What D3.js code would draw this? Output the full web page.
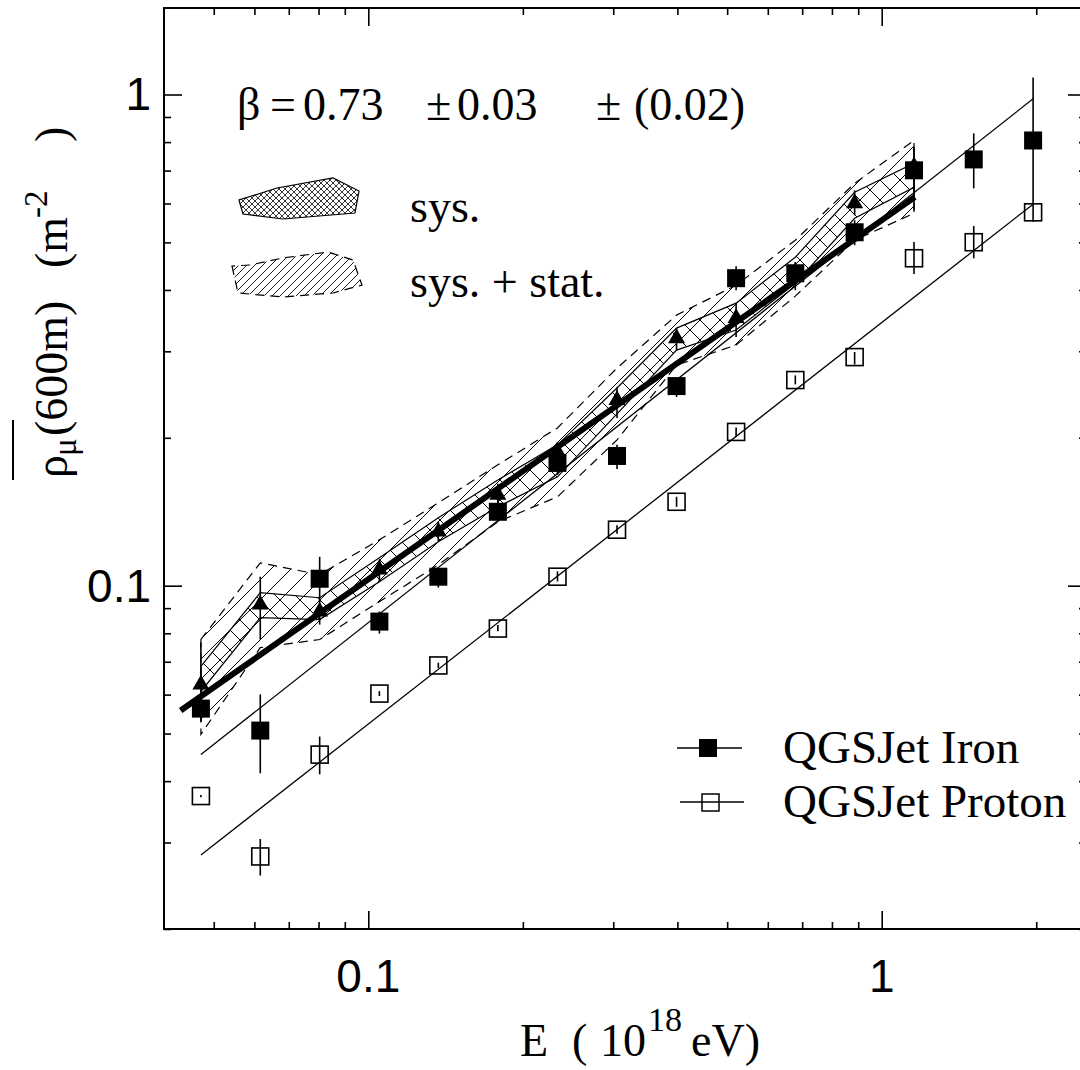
<!DOCTYPE html>
<html>
<head>
<meta charset="utf-8">
<title>Muon density at 600 m vs energy</title>
<script src="https://cdnjs.cloudflare.com/ajax/libs/d3/7.8.5/d3.min.js"></script>
<style>
  body { margin: 0; background: #fff; }
  svg { display: block; }
</style>
</head>
<body>
<svg id="chart" width="1080" height="1070"></svg>
<script>
// energies (10^18 eV) of the bins
var energy = [0.0472, 0.0616, 0.0804, 0.1051, 0.1369, 0.1788, 0.2336, 0.3051,
              0.3985, 0.5205, 0.6788, 0.8857, 1.156, 1.511, 1.972];

// QGSJet iron
var ironRho = [0.0562, 0.0507, 0.1033, 0.0845, 0.1043, 0.1414, 0.1778, 0.1837,
               0.2549, 0.4227, 0.4326, 0.5242, 0.7009, 0.7376, 0.8061];
var ironHi  = [0.0587, 0.0601, 0.1145, 0.0886, 0.1088, 0.1517, 0.1872, 0.1935,
               0.2648, 0.4471, 0.4556, 0.5546, 0.7805, 0.8332, 1.083];
var ironLo  = [0.0529, 0.0415, 0.0928, 0.0799, 0.0991, 0.1349, 0.1681, 0.1729,
               0.2422, 0.3996, 0.3996, 0.4933, 0.6233, 0.6441, 0.6090];

// QGSJet proton
var protonRho = [0.0373, 0.0281, 0.0453, 0.0603, 0.0688, 0.0818, 0.1043, 0.1300,
                 0.1482, 0.2056, 0.2622, 0.2920, 0.4641, 0.5003, 0.5756];
var protonHi  = [0.0375, 0.0305, 0.0493, 0.0610, 0.0697, 0.0832, 0.1070, 0.1328,
                 0.1517, 0.2100, 0.2680, 0.2990, 0.5010, 0.5400, 0.6100];
var protonLo  = [0.0371, 0.0257, 0.0413, 0.0596, 0.0680, 0.0808, 0.1020, 0.1275,
                 0.1447, 0.2010, 0.2570, 0.2820, 0.4310, 0.4640, 0.5510];

// measured data (triangles), first 13 bins
var dataRho = [0.0629, 0.0915, 0.0886, 0.1078, 0.1288, 0.1531, 0.1872, 0.2388,
               0.3190, 0.3506, 0.4326, 0.6004, 0.7140];
var dataHi  = [0.0766, 0.1043, 0.0937, 0.1129, 0.1349, 0.1612, 0.1962, 0.2538,
               0.3345, 0.3760, 0.4556, 0.6379, 0.7805];
var dataLo  = [0.0529, 0.0777, 0.0833, 0.1019, 0.1229, 0.1454, 0.1786, 0.2195,
               0.3017, 0.3207, 0.4090, 0.5677, 0.5811];

// systematic band and sys+stat band
var sysHi = [0.0685, 0.0968, 0.0945, 0.1140, 0.1375, 0.1642, 0.1935, 0.2526,
             0.3345, 0.3760, 0.4663, 0.6322, 0.7242];
var sysLo = [0.0609, 0.0861, 0.0853, 0.1019, 0.1229, 0.1447, 0.1666, 0.2237,
             0.3017, 0.3314, 0.4128, 0.5598, 0.6471];
var totHi = [0.0777, 0.1113, 0.1053, 0.1240, 0.1475, 0.1762, 0.2095, 0.2773,
             0.3555, 0.4090, 0.5050, 0.6594, 0.8062];
var totLo = [0.0498, 0.0748, 0.0777, 0.0928, 0.1103, 0.1349, 0.1517, 0.1980,
             0.2813, 0.3090, 0.3886, 0.5050, 0.5731];

// fitted lines (end points)
var fitDataE = [0.0431, 1.16],  fitDataRho = [0.0557, 0.618];
var fitIronE = [0.0472, 1.972], fitIronRho = [0.0453, 0.980];
var fitProtE = [0.0472, 1.972], fitProtRho = [0.0283, 0.598];

// ticks
var xMajor = [0.1, 1], xMajorLabels = ["0.1", "1"];
var xMinor = [0.05, 0.06, 0.07, 0.08, 0.09, 0.2, 0.3, 0.4, 0.5, 0.6, 0.7, 0.8, 0.9, 2];
var yMajor = [0.1, 1], yMajorLabels = ["0.1", "1"];
var yMinor = [0.02, 0.03, 0.04, 0.05, 0.06, 0.07, 0.08, 0.09,
              0.2, 0.3, 0.4, 0.5, 0.6, 0.7, 0.8, 0.9];

var serif = "'Liberation Serif', 'Times New Roman', serif";
var sans = "'Liberation Sans', Arial, sans-serif";

var svg = d3.select("#chart");
var L = 164, R = 1086, T = 8, B = 929;
var x = d3.scaleLog().domain([0.04, 2.5]).range([L, R]);
var y = d3.scaleLog().domain([0.02, 1.5]).range([B, T]);

// hatch patterns
var defs = svg.append("defs");
function hatch(id, s, dirs, sw) {
  var p = defs.append("pattern").attr("id", id)
      .attr("patternUnits", "userSpaceOnUse").attr("width", s).attr("height", s);
  var d = "";
  if (dirs.indexOf("/") >= 0)
    d += "M0," + s + "L" + s + ",0 M" + (-s) + "," + s + "L" + s + "," + (-s) + " M0," + (2 * s) + "L" + (2 * s) + ",0 ";
  if (dirs.indexOf("\\") >= 0)
    d += "M0,0L" + s + "," + s + " M" + (-s) + ",0L" + s + "," + (2 * s) + " M0," + (-s) + "L" + (2 * s) + "," + s;
  p.append("path").attr("d", d).attr("stroke", "#000").attr("stroke-width", sw).attr("fill", "none");
}
hatch("hatchTot", 20, "/", 1);
hatch("hatchSys", 20, "\\", 1);
hatch("legTot", 8, "/", 0.9);
hatch("legSys", 6, "/\\", 0.8);

var plot = svg.append("g");

// bands
var bandIdx = d3.range(dataRho.length);
function band(hi, lo) {
  return d3.area()
    .x(function(i) { return x(energy[i]); })
    .y0(function(i) { return y(lo[i]); })
    .y1(function(i) { return y(hi[i]); })(bandIdx) + "Z";
}
plot.append("path").attr("d", band(totHi, totLo))
  .attr("fill", "url(#hatchTot)").attr("stroke", "#000")
  .attr("stroke-width", 1.2).attr("stroke-dasharray", "9,6");
plot.append("path").attr("d", band(sysHi, sysLo))
  .attr("fill", "url(#hatchSys)").attr("stroke", "#000").attr("stroke-width", 1.2);

// thin fit lines
var line = d3.line().x(function(d) { return x(d[0]); }).y(function(d) { return y(d[1]); });
plot.append("path").attr("d", line(d3.zip(fitIronE, fitIronRho)))
  .attr("fill", "none").attr("stroke", "#000").attr("stroke-width", 1.3);
plot.append("path").attr("d", line(d3.zip(fitProtE, fitProtRho)))
  .attr("fill", "none").attr("stroke", "#000").attr("stroke-width", 1.3);

// error bars
function errBars(rows) {
  plot.append("g").selectAll("line").data(rows).join("line")
    .attr("x1", function(d) { return x(d.e); }).attr("x2", function(d) { return x(d.e); })
    .attr("y1", function(d) { return y(d.hi); }).attr("y2", function(d) { return y(d.lo); })
    .attr("stroke", "#000").attr("stroke-width", 1.6);
}
var ironRows = energy.map(function(e, i) { return { e: e, v: ironRho[i], hi: ironHi[i], lo: ironLo[i] }; });
var protRows = energy.map(function(e, i) { return { e: e, v: protonRho[i], hi: protonHi[i], lo: protonLo[i] }; });
var dataRows = dataRho.map(function(v, i) { return { e: energy[i], v: v, hi: dataHi[i], lo: dataLo[i] }; });
errBars(dataRows);
errBars(ironRows);
errBars(protRows);

// thick fit to data
plot.append("path").attr("d", line(d3.zip(fitDataE, fitDataRho)))
  .attr("fill", "none").attr("stroke", "#000").attr("stroke-width", 6);

// markers
var tri = d3.symbol().type(d3.symbolTriangle).size(125);
plot.append("g").selectAll("path").data(dataRows).join("path")
  .attr("d", tri)
  .attr("transform", function(d) { return "translate(" + x(d.e) + "," + y(d.v) + ")"; })
  .attr("fill", "#000");
plot.append("g").selectAll("rect").data(ironRows).join("rect")
  .attr("x", function(d) { return x(d.e) - 9; }).attr("y", function(d) { return y(d.v) - 9; })
  .attr("width", 18).attr("height", 18).attr("fill", "#000");
plot.append("g").selectAll("rect").data(protRows).join("rect")
  .attr("x", function(d) { return x(d.e) - 8.5; }).attr("y", function(d) { return y(d.v) - 8.5; })
  .attr("width", 17).attr("height", 17).attr("fill", "none")
  .attr("stroke", "#000").attr("stroke-width", 1.6);

// axes: ticks on all four sides, pointing inwards
function ticks(axis, tx, ty, vals, size) {
  var g = svg.append("g").attr("transform", "translate(" + tx + "," + ty + ")")
    .call(axis.tickValues(vals).tickSize(-size).tickFormat(""));
  g.select(".domain").remove();
  g.selectAll("line").attr("stroke", "#000").attr("stroke-width", 1.6);
}
ticks(d3.axisBottom(x), 0, B, xMinor, 7);
ticks(d3.axisBottom(x), 0, B, xMajor, 18);
ticks(d3.axisTop(x), 0, T, xMinor, 7);
ticks(d3.axisTop(x), 0, T, xMajor, 18);
ticks(d3.axisLeft(y), L, 0, yMinor, 7);
ticks(d3.axisLeft(y), L, 0, yMajor, 18);
ticks(d3.axisRight(y), R, 0, yMinor, 7);
ticks(d3.axisRight(y), R, 0, yMajor, 18);
svg.append("rect").attr("x", L).attr("y", T).attr("width", R - L).attr("height", B - T)
  .attr("fill", "none").attr("stroke", "#000").attr("stroke-width", 2);

// tick labels
svg.append("g").selectAll("text").data(xMajor).join("text")
  .attr("x", function(d) { return x(d); }).attr("y", 992)
  .attr("text-anchor", "middle").attr("font-family", sans).attr("font-size", 46)
  .text(function(d, i) { return xMajorLabels[i]; });
svg.append("g").selectAll("text").data(yMajor).join("text")
  .attr("x", 151).attr("y", function(d) { return y(d) + 16; })
  .attr("text-anchor", "end").attr("font-family", sans).attr("font-size", 46)
  .text(function(d, i) { return yMajorLabels[i]; });

// x axis title
var xt = svg.append("g").attr("font-family", serif).attr("font-size", 46);
xt.append("text").attr("x", 520).attr("y", 1056).text("E");
xt.append("text").attr("x", 572).attr("y", 1056).text("(");
xt.append("text").attr("x", 600).attr("y", 1056).text("10");
xt.append("text").attr("x", 648).attr("y", 1031).attr("font-size", 34).text("18");
xt.append("text").attr("x", 691).attr("y", 1056).text("eV)");

// y axis title (rotated; x runs upward from screen y = 478)
var yg = svg.append("g").attr("transform", "translate(67,478) rotate(-90)")
  .attr("font-family", serif).attr("font-size", 46);
yg.append("text").attr("x", 0).attr("y", 0).text("ρ");
yg.append("text").attr("x", 22).attr("y", 9).attr("font-size", 33).text("μ");
yg.append("text").attr("x", 42).attr("y", 0).text("(600m)");
yg.append("text").attr("x", 210).attr("y", 0).text("(m");
yg.append("text").attr("x", 260).attr("y", -20).attr("font-size", 33).text("-2");
yg.append("text").attr("x", 336).attr("y", 0).text(")");
yg.append("line").attr("x1", -2).attr("x2", 58).attr("y1", -54).attr("y2", -54)
  .attr("stroke", "#000").attr("stroke-width", 2);

// beta annotation
var beta = svg.append("g").attr("font-family", serif).attr("font-size", 46);
[["β", 237], ["=", 270], ["0.73", 303], ["±", 426], ["0.03", 457], ["±", 596], ["(0.02)", 634]]
  .forEach(function(p) { beta.append("text").attr("x", p[1]).attr("y", 120).text(p[0]); });

// band legend
var legSys = [[239, 200], [243, 214], [283, 219], [355, 213], [359, 191], [333, 178], [277, 188]];
var legTot = [[232, 266], [238, 293], [283, 297], [333, 293], [362, 285], [353, 260], [328, 252], [283, 258], [250, 265]];
svg.append("path").attr("d", "M" + legSys.join("L") + "Z")
  .attr("fill", "url(#legSys)").attr("stroke", "#000").attr("stroke-width", 1.2);
svg.append("path").attr("d", "M" + legTot.join("L") + "Z")
  .attr("fill", "url(#legTot)").attr("stroke", "#000").attr("stroke-width", 1.2)
  .attr("stroke-dasharray", "9,6");
svg.append("text").attr("x", 410).attr("y", 222).attr("font-family", serif).attr("font-size", 46).text("sys.");
svg.append("text").attr("x", 410).attr("y", 297).attr("font-family", serif).attr("font-size", 46).text("sys. + stat.");

// series legend
var leg = svg.append("g");
leg.append("line").attr("x1", 677).attr("x2", 742).attr("y1", 748).attr("y2", 748).attr("stroke", "#000").attr("stroke-width", 1.4);
leg.append("rect").attr("x", 699).attr("y", 739).attr("width", 18).attr("height", 18).attr("fill", "#000");
leg.append("text").attr("x", 783).attr("y", 763).attr("font-family", serif).attr("font-size", 47).text("QGSJet Iron");
leg.append("line").attr("x1", 680).attr("x2", 744).attr("y1", 802).attr("y2", 802).attr("stroke", "#000").attr("stroke-width", 1.4);
leg.append("rect").attr("x", 702).attr("y", 794).attr("width", 17).attr("height", 17).attr("fill", "none").attr("stroke", "#000").attr("stroke-width", 1.5);
leg.append("text").attr("x", 783).attr("y", 817).attr("font-family", serif).attr("font-size", 47).text("QGSJet Proton");
</script>
</body>
</html>
